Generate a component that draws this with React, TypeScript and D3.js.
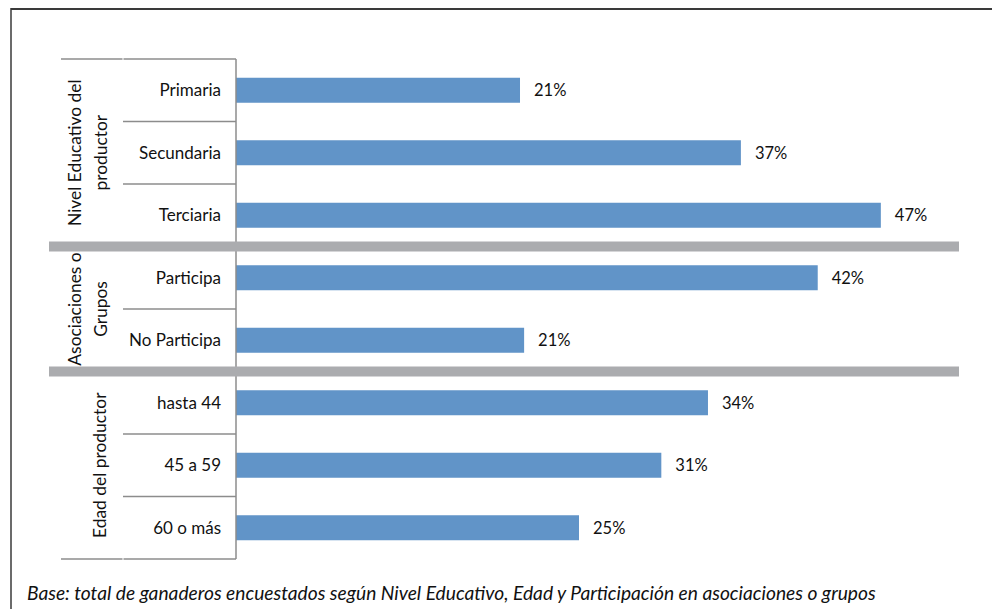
import React from "react";
import * as d3 from "d3";

const categories = ["Primaria", "Secundaria", "Terciaria", "Participa", "No Participa", "hasta 44", "45 a 59", "60 o más"];
const values = [20.7, 36.8, 47.0, 42.4, 21.0, 34.4, 31.0, 25.0];
const groups = [
  { lines: ["Nivel Educativo del", "productor"], start: 0, end: 3 },
  { lines: ["Asociaciones o", "Grupos"], start: 3, end: 5 },
  { lines: ["Edad del productor"], start: 5, end: 8 },
];
const footnote = "Base: total de ganaderos encuestados según Nivel Educativo, Edad y Participación en asociaciones o grupos";

const W = 992;
const H = 609;
const FONT = "Lato, 'Open Sans', sans-serif";

export default function App() {
  const axisX = 236;
  const top = 59;
  const bottom = 559;
  const y = d3.scaleBand<number>().domain(d3.range(categories.length)).range([top, bottom]).paddingInner(0.6).paddingOuter(0.3);
  const step = y.step();
  const x = d3.scaleLinear().domain([0, 50]).range([axisX, axisX + 50 * 13.72]);
  const bound = (i: number) => top + i * step;

  return (
    <svg width={W} height={H} style={{ position: "absolute", left: 0, top: 0 }} fontFamily={FONT}>
      <rect x={0} y={0} width={W} height={H} fill="#fff" />
      {/* outer frame */}
      <line x1={11} y1={9} x2={W} y2={9} stroke="#3a3a3a" strokeWidth={2} />
      <line x1={11} y1={8} x2={11} y2={H} stroke="#3a3a3a" strokeWidth={1.5} />

      {/* bars */}
      {values.map((v, i) => (
        <rect key={i} x={x(0)} y={y(i)} width={x(v) - x(0)} height={y.bandwidth()} fill="#6194c8" />
      ))}
      {values.map((v, i) => (
        <text key={"l" + i} x={x(v) + 14} y={y(i)! + y.bandwidth() / 2} dy="0.35em" fontSize={16.5} fill="#111">
          {Math.round(v)}%
        </text>
      ))}

      {/* category labels */}
      {categories.map((c, i) => (
        <text key={"c" + i} x={221} y={y(i)! + y.bandwidth() / 2} dy="0.35em" textAnchor="end" fontSize={17} fill="#111">
          {c}
        </text>
      ))}

      {/* separators between categories within groups */}
      {groups.map((g, gi) =>
        d3.range(g.start + 1, g.end).map((i) => (
          <line key={"s" + gi + i} x1={123} x2={236} y1={bound(i)} y2={bound(i)} stroke="#8c8c8c" strokeWidth={1.5} />
        ))
      )}
      {/* top and bottom lines */}
      <line x1={61} x2={236} y1={top} y2={top} stroke="#8c8c8c" strokeWidth={1.5} />
      <line x1={61} x2={236} y1={bottom} y2={bottom} stroke="#8c8c8c" strokeWidth={1.5} />
      <line x1={123} x2={123} y1={top - 1} y2={top + 1} stroke="#fff" strokeWidth={1} />
      <line x1={123} x2={123} y1={bottom - 1} y2={bottom + 1} stroke="#fff" strokeWidth={1} />

      {/* axis line */}
      <line x1={axisX} x2={axisX} y1={top} y2={bottom} stroke="#8c8c8c" strokeWidth={1.5} />

      {/* group bands */}
      {groups.slice(1).map((g, gi) => (
        <rect key={"b" + gi} x={49} y={bound(g.start) - 5} width={910} height={10} fill="#abacaf" />
      ))}

      {/* group labels */}
      {groups.map((g, gi) => {
        const cy = (bound(g.start) + bound(g.end)) / 2;
        const xs = g.lines.length === 2 ? [75, 101] : [100];
        return g.lines.map((ln, li) => (
          <text
            key={"g" + gi + li}
            transform={`translate(${xs[li]},${cy}) rotate(-90)`}
            textAnchor="middle"
            dy="0.35em"
            fontSize={17.4}
            fill="#111"
          >
            {ln}
          </text>
        ));
      })}

      {/* footnote */}
      <text x={27} y={600} fontSize={19.2} fontStyle="italic" fill="#111">
        {footnote}
      </text>
    </svg>
  );
}
